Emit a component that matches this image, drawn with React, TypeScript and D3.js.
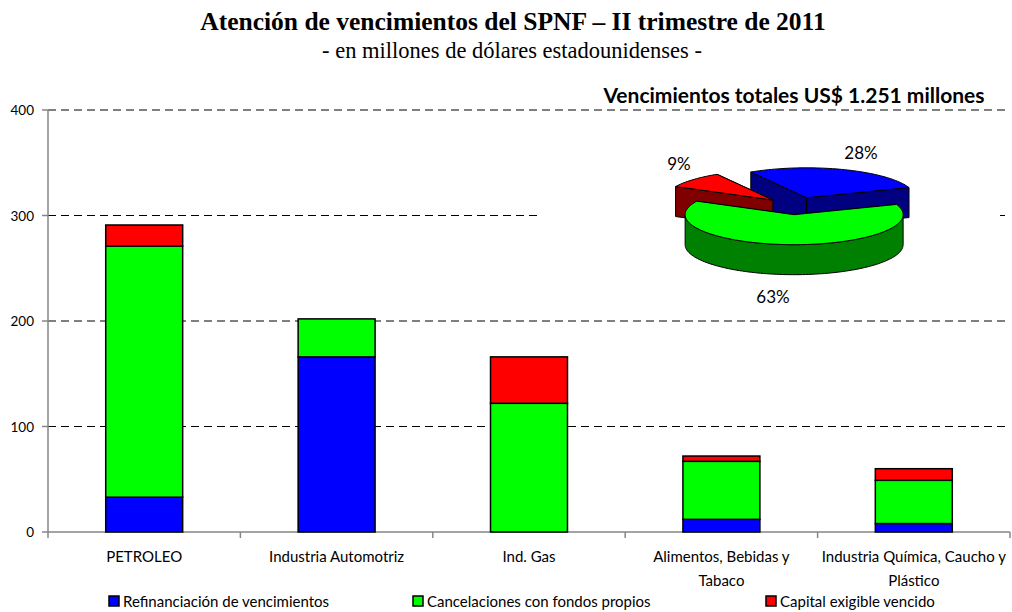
import React from "react";
import * as d3 from "d3";

const categories = ["PETROLEO", "Industria Automotriz", "Ind. Gas", "Alimentos, Bebidas y Tabaco", "Industria Química, Caucho y Plástico"];
const categoryLines = [["PETROLEO"], ["Industria Automotriz"], ["Ind. Gas"], ["Alimentos, Bebidas y", "Tabaco"], ["Industria Química, Caucho y", "Plástico"]];
const refinanciacion = [33, 166, 0, 12, 8];
const cancelaciones = [238, 36, 122, 55, 41];
const capitalVencido = [20, 0, 44, 5, 11];
const seriesNames = ["Refinanciación de vencimientos", "Cancelaciones con fondos propios", "Capital exigible vencido"];
const seriesColors = ["#0000FF", "#00FF00", "#FF0000"];
const yTicks = [0, 100, 200, 300, 400];

const pieLabels = ["28%", "9%", "63%"];
const pieValues = [28, 9, 63];
const pieTop = ["#0000FF", "#FF0000", "#00FF00"];
const pieSide = ["#000080", "#800000", "#008000"];

const FONT = "Lato, 'Open Sans', sans-serif";
const SERIF = "'Liberation Serif', 'Times New Roman', serif";

export default function App() {
  const W = 1012, H = 612;
  const x = d3.scaleBand<string>().domain(categories).range([48, 1010]).paddingInner(0.6).paddingOuter(0.3);
  const y = d3.scaleLinear().domain([0, 400]).range([532, 110]);
  const rows = categories.map((c, i) => ({ cat: c, r: refinanciacion[i], c2: cancelaciones[i], k: capitalVencido[i] }));
  const stack = d3.stack<any>().keys(["r", "c2", "k"])(rows);
  const step = x.step();
  const boundaries = d3.range(categories.length + 1).map((i) => x.range()[0] + i * step);

  // 3D pie
  const cx = 796, cy = 206, rx = 109, ry = 30, depth = 30, explode = 0.29;
  const theta0 = (20 * Math.PI) / 180;
  const arcs = d3.pie<number>().sort(null)(pieValues);
  const pieEls: React.ReactNode[] = [];
  arcs.forEach((a, i) => {
    const ts = theta0 + a.startAngle, te = theta0 + a.endAngle;
    const mid = (ts + te) / 2;
    const ox = explode * rx * Math.cos(mid), oy = -explode * ry * Math.sin(mid);
    const P = (t: number, z = 0): [number, number] => [cx + ox + rx * Math.cos(t), cy + oy - ry * Math.sin(t) + z];
    const apex = (z = 0): [number, number] => [cx + ox, cy + oy + z];
    const arcPts = (t1: number, t2: number, z = 0) => {
      const n = Math.max(2, Math.ceil(Math.abs(t2 - t1) / 0.03));
      return d3.range(n + 1).map((j) => P(t1 + ((t2 - t1) * j) / n, z));
    };
    const poly = (pts: [number, number][]) => "M" + pts.map((p) => p[0].toFixed(2) + "," + p[1].toFixed(2)).join("L") + "Z";
    const radial = (t: number) => poly([apex(), P(t), P(t, depth), apex(depth)]);
    const faceS = { d: radial(ts), front: Math.cos(ts) > 0 };
    const faceE = { d: radial(te), front: Math.cos(te) < 0 };
    const walls: string[] = [];
    [[Math.PI, 2 * Math.PI], [3 * Math.PI, 4 * Math.PI]].forEach(([f0, f1]) => {
      const a0 = Math.max(ts, f0), a1 = Math.min(te, f1);
      if (a1 > a0) {
        const top = arcPts(a0, a1);
        const bot = arcPts(a1, a0, depth);
        walls.push(poly([...top, ...bot]));
      }
    });
    const st = { stroke: "#000", strokeWidth: 1, strokeLinejoin: "round" as const };
    [faceS, faceE].filter((f) => !f.front).forEach((f, j) => pieEls.push(<path key={`b${i}${j}`} d={f.d} fill={pieSide[i]} {...st} />));
    walls.forEach((w, j) => pieEls.push(<path key={`w${i}${j}`} d={w} fill={pieSide[i]} {...st} />));
    [faceS, faceE].filter((f) => f.front).forEach((f, j) => pieEls.push(<path key={`f${i}${j}`} d={f.d} fill={pieSide[i]} {...st} />));
    pieEls.push(<path key={`t${i}`} d={poly([apex(), ...arcPts(ts, te)])} fill={pieTop[i]} {...st} />);
  });

  const legendX = [109, 413, 766];

  return (
    <svg width={W} height={H} style={{ position: "absolute", left: 0, top: 0, background: "#fff" }}>
      <text x={513} y={30} textAnchor="middle" fontFamily={SERIF} fontWeight="bold" fontSize={25.5}>
        Atención de vencimientos del SPNF – II trimestre de 2011
      </text>
      <text x={512} y={58} textAnchor="middle" fontFamily={SERIF} fontSize={22.5}>
        - en millones de dólares estadounidenses -
      </text>

      {/* gridlines */}
      {yTicks.filter((t) => t > 0).map((t) => (
        <line key={t} x1={48} x2={1010} y1={y(t)} y2={y(t)} stroke="#000" strokeWidth={1} strokeDasharray="8,5" />
      ))}

      {/* axes */}
      <line x1={48} x2={48} y1={y(400)} y2={y(0) + 1} stroke="#868686" strokeWidth={1.5} />
      <line x1={48} x2={1010} y1={y(0)} y2={y(0)} stroke="#868686" strokeWidth={1.5} />
      {yTicks.map((t) => (
        <g key={t}>
          <line x1={42} x2={48} y1={y(t)} y2={y(t)} stroke="#868686" strokeWidth={1.5} />
          <text x={34} y={y(t) + 5} textAnchor="end" fontFamily={FONT} fontSize={13.5}>{t}</text>
        </g>
      ))}
      {boundaries.map((b, i) => (
        <line key={i} x1={b} x2={b} y1={y(0)} y2={y(0) + 6} stroke="#868686" strokeWidth={1.5} />
      ))}

      {/* bars */}
      {stack.map((s, si) =>
        s.map((d, i) => {
          const h = y(d[0]) - y(d[1]);
          if (h <= 0) return null;
          return (
            <rect key={`${si}-${i}`} x={x(categories[i])} y={y(d[1])} width={x.bandwidth()} height={h}
              fill={seriesColors[si]} stroke="#000" strokeWidth={1.5} />
          );
        })
      )}

      {/* x labels */}
      {categoryLines.map((lines, i) => (
        <text key={i} textAnchor="middle" fontFamily={FONT} fontSize={15}>
          {lines.map((l, j) => (
            <tspan key={j} x={(x(categories[i]) as number) + x.bandwidth() / 2} y={562 + j * 24}>{l}</tspan>
          ))}
        </text>
      ))}

      {/* legend */}
      {seriesNames.map((n, i) => (
        <g key={n}>
          <rect x={legendX[i]} y={596} width={10} height={10} fill={seriesColors[i]} stroke="#000" strokeWidth={1.5} />
          <text x={legendX[i] + 14} y={607} fontFamily={FONT} fontSize={15}>{n}</text>
        </g>
      ))}

      {/* pie panel */}
      <rect x={540} y={120} width={460} height={190} fill="#fff" />
      <text x={794} y={103} textAnchor="middle" fontFamily={FONT} fontWeight="bold" fontSize={21}>
        Vencimientos totales US$ 1.251 millones
      </text>
      {pieEls}
      <text x={861} y={159} textAnchor="middle" fontFamily={FONT} fontSize={17}>{pieLabels[0]}</text>
      <text x={679} y={170} textAnchor="middle" fontFamily={FONT} fontSize={17}>{pieLabels[1]}</text>
      <text x={773} y={303} textAnchor="middle" fontFamily={FONT} fontSize={17}>{pieLabels[2]}</text>
    </svg>
  );
}
